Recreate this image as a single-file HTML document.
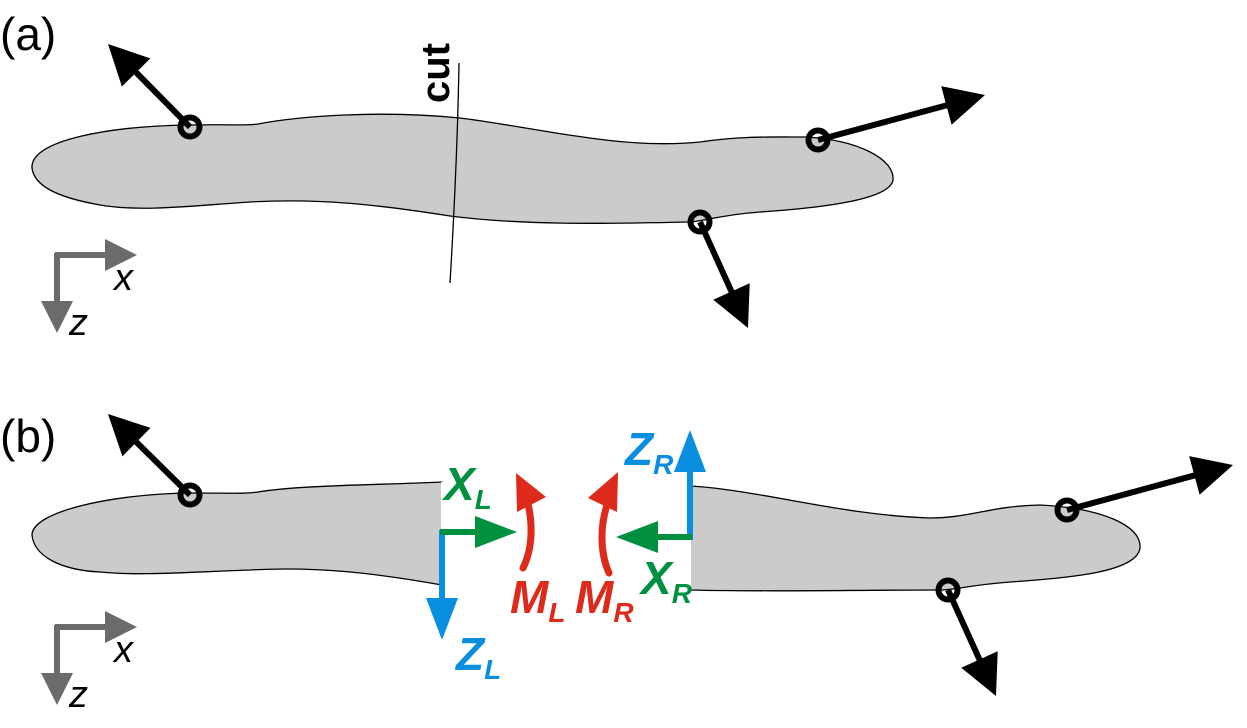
<!DOCTYPE html>
<html><head><meta charset="utf-8"><style>
html,body{margin:0;padding:0;background:#fff;}
svg{display:block;}
text{font-family:"Liberation Sans",Arial,sans-serif;}
</style></head><body>
<svg id="fig" width="1247" height="728" viewBox="0 0 1247 728">
<g>
  <text x="0" y="50" font-size="46">(a)</text>
  <path fill="#cbcbcb" stroke="#000" stroke-width="1.3"
   d="M32 168 C30 140,110 126,190 125 C230 124,245 126,258 124 C300 116,380 110,460 118 C540 128,620 150,700 142 C740 136,770 137,805 137 C860 140,895 160,893 180 C890 200,820 208,760 212 C720 215,705 221,690 222 C600 224,520 225,450 216 C380 205,320 198,250 202 C190 206,140 212,100 205 C55 197,34 185,32 168 Z"/>
  <path d="M459 63 C458 120,455 200,450 283" fill="none" stroke="#000" stroke-width="1.3"/>
  <text transform="translate(449,103) rotate(-90)" font-size="40" font-weight="bold">cut</text>
</g>
<g>
  <text x="0" y="452" font-size="46">(b)</text>
  <path fill="#cbcbcb" stroke="#000" stroke-width="1.3"
   d="M442 482 C380 485,300 485,258 492 C245 494,230 493,190 493 C110 494,32 512,32 535 C34 556,60 570,100 572 C140 576,190 572,250 570 C320 566,380 574,442 585 Z"/>
  <path d="M442 482 L442 585" stroke="#fff" stroke-width="2"/>
  <path fill="#cbcbcb" stroke="#000" stroke-width="1.3"
   d="M690 486 C760 490,840 515,930 518 C970 518,990 506,1040 505 C1100 508,1142 525,1140 548 C1137 572,1070 578,1010 582 C970 585,955 590,940 590 C850 590,770 592,690 590 Z"/>
  <path d="M690 486 L690 590" stroke="#fff" stroke-width="2"/>
</g>
<g id="arrows"></g>
<path d="M523 568 C533 548,533 522,527 500" fill="none" stroke="#dd2a1a" stroke-width="7" stroke-linecap="round"/>
<polygon points="516,473 546,497 517,512" fill="#dd2a1a"/>
<path d="M609 573 C600 553,600 527,607 505" fill="none" stroke="#dd2a1a" stroke-width="7" stroke-linecap="round"/>
<polygon points="618,472 588,498 617,512" fill="#dd2a1a"/>
<g font-weight="bold" font-style="italic">
  <text x="444" y="500" font-size="46" fill="#009040">X<tspan font-size="28" dy="9">L</tspan></text>
  <text x="456" y="670" font-size="46" fill="#0a8ee0">Z<tspan font-size="28" dy="9">L</tspan></text>
  <text x="510" y="613" font-size="46" fill="#dd2a1a">M<tspan font-size="28" dy="9">L</tspan></text>
  <text x="575" y="613" font-size="46" fill="#dd2a1a">M<tspan font-size="28" dy="9">R</tspan></text>
  <text x="625" y="465" font-size="46" fill="#0a8ee0">Z<tspan font-size="28" dy="9">R</tspan></text>
  <text x="641" y="594" font-size="46" fill="#009040">X<tspan font-size="28" dy="9">R</tspan></text>
</g>
<g font-style="italic" font-size="38" fill="#000">
  <text x="114" y="290">x</text>
  <text x="69" y="335">z</text>
  <text x="114" y="662">x</text>
  <text x="69" y="707">z</text>
</g>
</svg>
<script>
var NS='http://www.w3.org/2000/svg';
var g=document.getElementById('arrows');
function arrow(name,x1,y1,x2,y2,color,w,hl,hw){
  var dx=x2-x1,dy=y2-y1,L=Math.sqrt(dx*dx+dy*dy),ux=dx/L,uy=dy/L;
  var bx=x2-ux*hl,by=y2-uy*hl;
  var l=document.createElementNS(NS,'line');
  l.setAttribute('x1',x1);l.setAttribute('y1',y1);l.setAttribute('x2',bx+ux*2);l.setAttribute('y2',by+uy*2);
  l.setAttribute('stroke',color);l.setAttribute('stroke-width',w);
  
  
  g.appendChild(l);
  var p=document.createElementNS(NS,'polygon');
  p.setAttribute('points',x2+','+y2+' '+(bx-uy*hw)+','+(by+ux*hw)+' '+(bx+uy*hw)+','+(by-ux*hw));
  p.setAttribute('fill',color);
  
  
  g.appendChild(p);
}
function circ(name,x,y){
  var c=document.createElementNS(NS,'circle');
  c.setAttribute('cx',x);c.setAttribute('cy',y);c.setAttribute('r',9.5);
  c.setAttribute('fill','none');c.setAttribute('stroke','#000');c.setAttribute('stroke-width',6);
  
  
  g.appendChild(c);
}
var G='#6b6b6b';
arrow('force-a1',190,127,108,44,'#000',6,40,20);
arrow('force-a2',818,140,985,95,'#000',6,40,20);
arrow('force-a3',700,222,748,328,'#000',6,40,20);
circ('point-a1',190,127);circ('point-a2',818,140);circ('point-a3',700,222);
arrow('x-axis-a',55,255,137,255,G,6,32,16);
arrow('z-axis-a',57,253,57,333,G,6,32,16);
arrow('force-b1',190,495,108,414,'#000',6,40,20);
arrow('force-b2',1067,510,1233,465,'#000',6,40,20);
arrow('force-b3',948,590,996,696,'#000',6,40,20);
circ('point-b1',190,495);circ('point-b2',1067,510);circ('point-b3',948,590);
arrow('x-axis-b',55,627,137,627,G,6,32,16);
arrow('z-axis-b',57,625,57,705,G,6,32,16);
arrow('zl-force',442,530,442,640,'#0a8ee0',6,42,16);
arrow('xl-force',440,532,517,532,'#009040',6,42,16);
arrow('zr-force',690,540,690,430,'#0a8ee0',6,42,16);
arrow('xr-force',692,537,616,537,'#009040',6,42,16);
</script>
</body></html>
